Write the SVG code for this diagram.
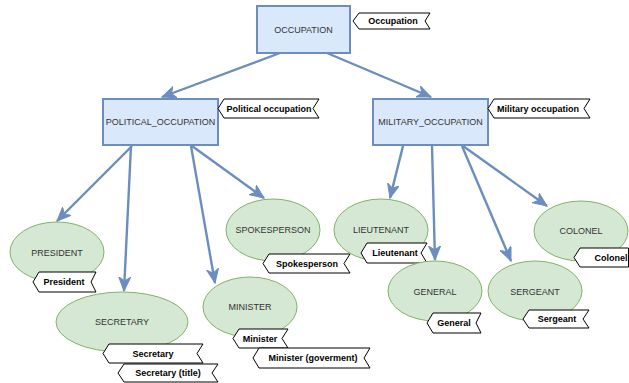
<svg xmlns="http://www.w3.org/2000/svg" width="629" height="383" viewBox="0 0 629 383">
  <style>
    .box { fill: #dae8fc; stroke: #6c8ebf; stroke-width: 2; }
    .ell { fill: #d5e8d4; stroke: #82b366; stroke-width: 1; }
    .lbl { font-family: "Liberation Sans", Arial, sans-serif; font-size: 9px; fill: #333333; text-anchor: middle; dominant-baseline: central; }
    .tag { fill: #ffffff; stroke: #000000; stroke-width: 1; }
    .tagt { font-family: "Liberation Sans", Arial, sans-serif; font-size: 9px; font-weight: bold; fill: #000000; text-anchor: middle; dominant-baseline: central; }
    .edge { fill: none; stroke: #6c8ebf; stroke-width: 2.4; marker-end: url(#arrow); }
  </style>
  <defs>
    <!-- classic notched arrowhead, tip at (14,6) -->
    <marker id="arrow" markerUnits="userSpaceOnUse" markerWidth="16" markerHeight="14" refX="14" refY="6" orient="auto" viewBox="0 0 16 14">
      <path d="M0,0 L14,6 L0,12 L4,6 Z" fill="#6c8ebf" stroke="#6c8ebf" stroke-width="1"/>
    </marker>
  </defs>
  <rect width="629" height="383" fill="#ffffff"/>

  <g id="connectors">
    <line class="edge" x1="280" y1="53" x2="162" y2="97"/>
    <line class="edge" x1="327" y1="53" x2="431" y2="97"/>
    <line class="edge" x1="132" y1="146" x2="57" y2="221"/>
    <line class="edge" x1="131" y1="146" x2="124" y2="291"/>
    <line class="edge" x1="191" y1="146" x2="215" y2="283"/>
    <line class="edge" x1="192" y1="146" x2="264" y2="198"/>
    <line class="edge" x1="403" y1="146" x2="390" y2="198"/>
    <line class="edge" x1="432" y1="146" x2="435" y2="260"/>
    <line class="edge" x1="462" y1="146" x2="511" y2="261"/>
    <line class="edge" x1="463" y1="146" x2="547" y2="206"/>
  </g>

  <g id="occupation">
    <rect class="box" x="257" y="6" width="93" height="47"/>
    <text class="lbl" x="303.5" y="30">OCCUPATION</text>
  </g>
  <g id="tag-occupation">
    <polygon class="tag" points="353,21 359,13 430,13 425,21 430,29 359,29"/>
    <text class="tagt" x="393" y="21">Occupation</text>
  </g>

  <g id="political">
    <rect class="box" x="103" y="99" width="115" height="46"/>
    <text class="lbl" x="160.5" y="122">POLITICAL_OCCUPATION</text>
  </g>
  <g id="tag-political">
    <polygon class="tag" points="218,108.5 224,99 319,99 313,108.5 319,118 224,118"/>
    <text class="tagt" x="269" y="108.5">Political occupation</text>
  </g>

  <g id="military">
    <rect class="box" x="373" y="99" width="115" height="46"/>
    <text class="lbl" x="430.5" y="122">MILITARY_OCCUPATION</text>
  </g>
  <g id="tag-military">
    <polygon class="tag" points="488,108.5 494,99 590,99 584,108.5 590,118 494,118"/>
    <text class="tagt" x="538" y="108.5">Military occupation</text>
  </g>

  <g id="president">
    <ellipse class="ell" cx="57" cy="252" rx="47" ry="30"/>
    <text class="lbl" x="57" y="253">PRESIDENT</text>
  </g>
  <g id="tag-president">
    <polygon class="tag" points="33,282 39,272 96,272 91,282 96,292 39,292"/>
    <text class="tagt" x="64" y="282">President</text>
  </g>

  <g id="secretary">
    <ellipse class="ell" cx="122" cy="322" rx="66" ry="30"/>
    <text class="lbl" x="122" y="322">SECRETARY</text>
  </g>
  <g id="tag-secretary">
    <polygon class="tag" points="103,353.5 109,344 203,344 197,353.5 203,363 109,363"/>
    <text class="tagt" x="153" y="353.5">Secretary</text>
  </g>
  <g id="tag-secretary-title">
    <polygon class="tag" points="118,373 124,364 218,364 212,373 218,382 124,382"/>
    <text class="tagt" x="168" y="373">Secretary (title)</text>
  </g>

  <g id="spokesperson">
    <ellipse class="ell" cx="273" cy="230" rx="47" ry="31"/>
    <text class="lbl" x="273" y="230">SPOKESPERSON</text>
  </g>
  <g id="tag-spokesperson">
    <polygon class="tag" points="263,263.5 269,254 350,254 344,263.5 350,273 269,273"/>
    <text class="tagt" x="307" y="263.5">Spokesperson</text>
  </g>

  <g id="minister">
    <ellipse class="ell" cx="250" cy="307" rx="47" ry="30"/>
    <text class="lbl" x="250" y="307">MINISTER</text>
  </g>
  <g id="tag-minister">
    <polygon class="tag" points="233,338.5 239,329 288,329 282,338.5 288,348 239,348"/>
    <text class="tagt" x="260" y="338.5">Minister</text>
  </g>
  <g id="tag-minister-government">
    <polygon class="tag" points="253,358 259,348 370,348 364,358 370,368 259,368"/>
    <text class="tagt" x="313" y="358">Minister (goverment)</text>
  </g>

  <g id="lieutenant">
    <ellipse class="ell" cx="381" cy="230" rx="47" ry="31"/>
    <text class="lbl" x="381" y="230">LIEUTENANT</text>
  </g>
  <g id="tag-lieutenant">
    <polygon class="tag" points="361,253 367,243 427,243 421,253 427,263 367,263"/>
    <text class="tagt" x="395" y="253">Lieutenant</text>
  </g>

  <g id="general">
    <ellipse class="ell" cx="435" cy="291" rx="47" ry="30"/>
    <text class="lbl" x="435" y="292">GENERAL</text>
  </g>
  <g id="tag-general">
    <polygon class="tag" points="427,323 433,313 481,313 476,323 481,333 433,333"/>
    <text class="tagt" x="454" y="323">General</text>
  </g>

  <g id="sergeant">
    <ellipse class="ell" cx="535" cy="291" rx="47" ry="30"/>
    <text class="lbl" x="535" y="292">SERGEANT</text>
  </g>
  <g id="tag-sergeant">
    <polygon class="tag" points="523,319 529,310 589,310 583,319 589,328 529,328"/>
    <text class="tagt" x="557" y="319">Sergeant</text>
  </g>

  <g id="colonel">
    <ellipse class="ell" cx="581" cy="231" rx="47" ry="30"/>
    <text class="lbl" x="581" y="231">COLONEL</text>
  </g>
  <g id="tag-colonel">
    <polygon class="tag" points="574,257.5 580,248 628.5,248 628.5,267 580,267"/>
    <text class="tagt" x="611" y="257.5">Colonel</text>
  </g>
</svg>
